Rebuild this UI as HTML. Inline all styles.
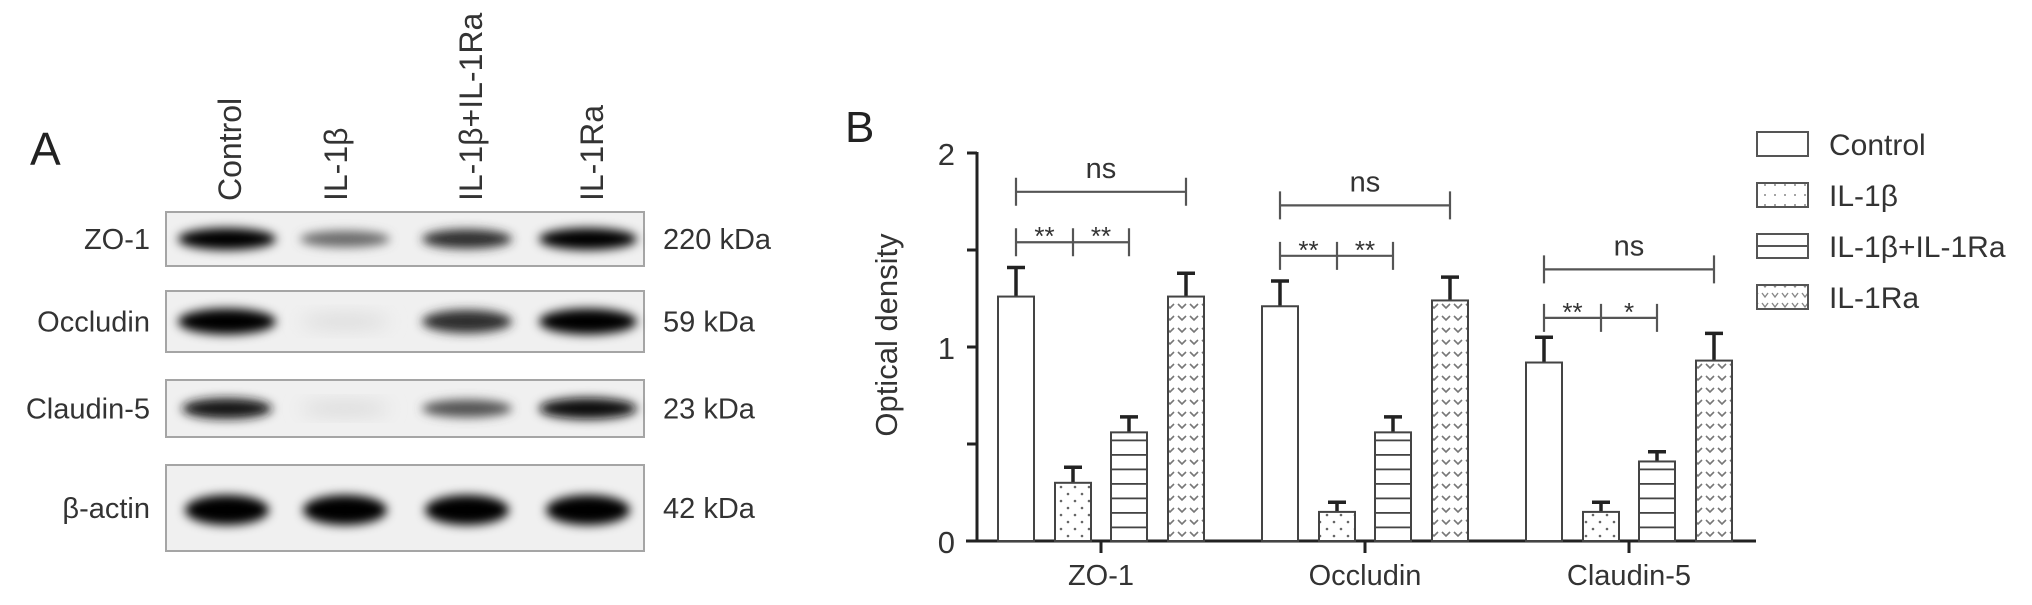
<!DOCTYPE html>
<html><head><meta charset="utf-8">
<style>
html,body{margin:0;padding:0;background:#fff;}
body{width:2032px;height:600px;overflow:hidden;font-family:"Liberation Sans",Arial,sans-serif;}
svg text{font-family:"Liberation Sans",Arial,sans-serif;fill:#333;}
</style></head>
<body>
<svg id="fig" width="2032" height="600" viewBox="0 0 2032 600" xmlns="http://www.w3.org/2000/svg">
<defs>
  <filter id="blur" x="-30%" y="-80%" width="160%" height="260%"><feGaussianBlur stdDeviation="5"/></filter>
  <filter id="blur2" x="-30%" y="-80%" width="160%" height="260%"><feGaussianBlur stdDeviation="9"/></filter>
  <pattern id="pDots" width="14" height="14" patternUnits="userSpaceOnUse">
    <rect width="14" height="14" fill="#fff"/><circle cx="4" cy="4" r="1.3" fill="#666"/><circle cx="11" cy="11" r="1.3" fill="#666"/>
  </pattern>
  <pattern id="pLines" width="14" height="14.5" patternUnits="userSpaceOnUse" patternTransform="translate(0,541)">
    <rect width="14" height="14.5" fill="#fff"/><line x1="0" y1="0.8" x2="14" y2="0.8" stroke="#444" stroke-width="2"/>
  </pattern>
  <pattern id="pChev" width="12" height="12" patternUnits="userSpaceOnUse">
    <rect width="12" height="12" fill="#fff"/><polyline points="2,4 6,8 10,4" fill="none" stroke="#777" stroke-width="1.6"/>
  </pattern>
  <pattern id="pDotsL" width="10" height="10" patternUnits="userSpaceOnUse">
    <rect width="10" height="10" fill="#fff"/><circle cx="5" cy="5" r="1" fill="#888"/>
  </pattern>
  <pattern id="pChevL" width="10" height="10" patternUnits="userSpaceOnUse">
    <rect width="10" height="10" fill="#fff"/><polyline points="2,3 5,7 8,3" fill="none" stroke="#888" stroke-width="1.4"/>
  </pattern>
</defs>

<!-- Panel A -->
<text x="30" y="165" font-size="46" style="fill:#222">A</text>
<g id="lanes"></g>
<g id="blots"></g>

<!-- Panel B -->
<text x="845" y="142" font-size="44" style="fill:#222">B</text>
<text transform="translate(897,335) rotate(-90)" text-anchor="middle" font-size="31">Optical density</text>
<g id="chart"></g>
<g id="legend"></g>
</svg>

<script>
// ---- Panel A data ----
const laneNames = ["Control", "IL-1β", "IL-1β+IL-1Ra", "IL-1Ra"];
const blotNames = ["ZO-1", "Occludin", "Claudin-5", "β-actin"];
const blotSizes = ["220 kDa", "59 kDa", "23 kDa", "42 kDa"];
const blotIntensity = [
  [1.0, 0.55, 0.8, 1.0],
  [1.0, 0.08, 0.8, 1.0],
  [0.9, 0.1, 0.65, 0.95],
  [1.0, 1.0, 1.0, 1.0]
];
// ---- Panel B data ----
const groups = ["ZO-1", "Occludin", "Claudin-5"];
const series = ["Control", "IL-1β", "IL-1β+IL-1Ra", "IL-1Ra"];
const controlVals = [1.26, 1.21, 0.92];
const il1bVals = [0.30, 0.15, 0.15];
const comboVals = [0.56, 0.56, 0.41];
const il1raVals = [1.26, 1.24, 0.93];
const controlErr = [0.15, 0.13, 0.13];
const il1bErr = [0.08, 0.05, 0.05];
const comboErr = [0.08, 0.08, 0.05];
const il1raErr = [0.12, 0.12, 0.14];
const nsLevel = [1.80, 1.73, 1.40];
const starLevel = [1.54, 1.47, 1.15];
const starLeft = ["**", "**", "**"];
const starRight = ["**", "**", "*"];
const yTicks = [0, 0.5, 1, 1.5, 2];
const yTickLabels = ["0", "", "1", "", "2"];

const NS = "http://www.w3.org/2000/svg";
function mk(tag, attrs, parent){const e=document.createElementNS(NS,tag);for(const k in attrs)e.setAttribute(k,attrs[k]);parent.appendChild(e);return e;}

// Panel A
const lanesG=document.getElementById('lanes');
const laneX=[230,336,471,592];
laneNames.forEach((n,i)=>{
  const t=mk('text',{transform:`translate(${laneX[i]+11},201) rotate(-90)`,'font-size':'32'},lanesG);
  t.textContent=n;
  
  
});
const blotsG=document.getElementById('blots');
const boxY=[[212,266],[291,352],[380,437],[465,551]];
const bandX=[227,345,467,588];
blotNames.forEach((b,r)=>{
  const g=mk('g',{},blotsG);
  
  
  const [y0,y1]=boxY[r];
  mk('rect',{x:166,y:y0,width:478,height:y1-y0,fill:'#f0f0f0',stroke:'#a5a5a5','stroke-width':2},g);
  const cy=(y0+y1)/2 + (r===3?2:0);
  blotIntensity[r].forEach((v,i)=>{
    const h=(r===3?30:(r===1?26:22))*(0.45+0.55*v);
    const w=r===3?84:(90+(v>0.9?8:0));
    const dark=Math.round(235-235*v);
    const e=mk('ellipse',{cx:bandX[i],cy:cy,rx:w/2,ry:h/2,fill:`rgb(${dark},${dark},${dark})`,filter:v<0.3?'url(#blur2)':'url(#blur)'},g);
    
    
  });
  const l=mk('text',{x:150,y:(y0+y1)/2+10,'text-anchor':'end','font-size':'29'},g);
  l.textContent=b;
  
  
  const s=mk('text',{x:663,y:(y0+y1)/2+10,'font-size':'29'},g);
  s.textContent=blotSizes[r];
  
  
});

// Panel B
const chart=document.getElementById('chart');
const y0px=541, pxPerUnit=194;
const yScale=v=>y0px-v*pxPerUnit;
const groupX=i=>1101+i*264;
const offsets=[-85,-28,28,85];
const barW=36;
mk('line',{x1:977,y1:yScale(2)-1,x2:977,y2:y0px+1.5,stroke:'#222','stroke-width':3},chart);
mk('line',{x1:966,y1:y0px,x2:1756,y2:y0px,stroke:'#222','stroke-width':3},chart);
yTicks.forEach((t,i)=>{
  const tk=mk('line',{x1:967,y1:yScale(t),x2:977,y2:yScale(t),stroke:'#222','stroke-width':3},chart);
  
  
  if(yTickLabels[i]){
    const tl=mk('text',{x:955,y:yScale(t)+12,'text-anchor':'end','font-size':'31'},chart);
    tl.textContent=yTickLabels[i];
    
    
  }
});
const fills=['#fff','url(#pDots)','url(#pLines)','url(#pChev)'];
const vals=[controlVals,il1bVals,comboVals,il1raVals];
const errs=[controlErr,il1bErr,comboErr,il1raErr];
groups.forEach((gname,gi)=>{
  const gx=groupX(gi);
  const tk=mk('line',{x1:gx,y1:y0px,x2:gx,y2:y0px+12,stroke:'#222','stroke-width':3},chart);
  
  
  const xl=mk('text',{x:gx,y:585,'text-anchor':'middle','font-size':'29'},chart);
  xl.textContent=gname;
  
  
  series.forEach((s,si)=>{
    const cx=gx+offsets[si];
    const v=vals[si][gi], e=errs[si][gi];
    const ytop=yScale(v+e);
    const el=mk('line',{x1:cx,y1:yScale(v),x2:cx,y2:ytop,stroke:'#222','stroke-width':3.5},chart);
    
    
    const cap=mk('line',{x1:cx-9,y1:ytop,x2:cx+9,y2:ytop,stroke:'#222','stroke-width':3.5},chart);
    
    
    const r=mk('rect',{x:cx-barW/2,y:yScale(v),width:barW,height:y0px-yScale(v),fill:fills[si],stroke:'#444','stroke-width':2},chart);
    
    
  });
  const c0=gx+offsets[0], c1=gx+offsets[1], c2=gx+offsets[2], c3=gx+offsets[3];
  const ny=yScale(nsLevel[gi]);
  const br=mk('path',{d:`M${c0},${ny-14}V${ny+14}M${c0},${ny}H${c3}M${c3},${ny-14}V${ny+14}`,stroke:'#555','stroke-width':2.2,fill:'none'},chart);
  
  
  const nt=mk('text',{x:(c0+c3)/2,y:ny-14,'text-anchor':'middle','font-size':'29'},chart);
  nt.textContent='ns';
  
  
  const sy=yScale(starLevel[gi]);
  const sb=mk('path',{d:`M${c0},${sy-14}V${sy+14}M${c0},${sy}H${c2}M${c2},${sy-14}V${sy+14}M${c1},${sy-14}V${sy+14}`,stroke:'#555','stroke-width':2.2,fill:'none'},chart);
  
  
  const s1=mk('text',{x:(c0+c1)/2,y:sy+3,'text-anchor':'middle','font-size':'26'},chart);
  s1.textContent=starLeft[gi];
  
  
  const s2=mk('text',{x:(c1+c2)/2,y:sy+3,'text-anchor':'middle','font-size':'26'},chart);
  s2.textContent=starRight[gi];
  
  
});

// legend
const leg=document.getElementById('legend');
const legFills=['#fff','url(#pDotsL)','#fff','url(#pChevL)'];
series.forEach((s,i)=>{
  const y=132+i*51;
  const g=mk('g',{},leg);
  
  
  mk('rect',{x:1757,y:y,width:51,height:24,fill:legFills[i],stroke:'#555','stroke-width':2},g);
  if(i===2) mk('line',{x1:1757,y1:y+12,x2:1808,y2:y+12,stroke:'#555','stroke-width':2},g);
  const t=mk('text',{x:1829,y:y+23,'font-size':'30'},g);
  t.textContent=s;
});
</script>
</body></html>
